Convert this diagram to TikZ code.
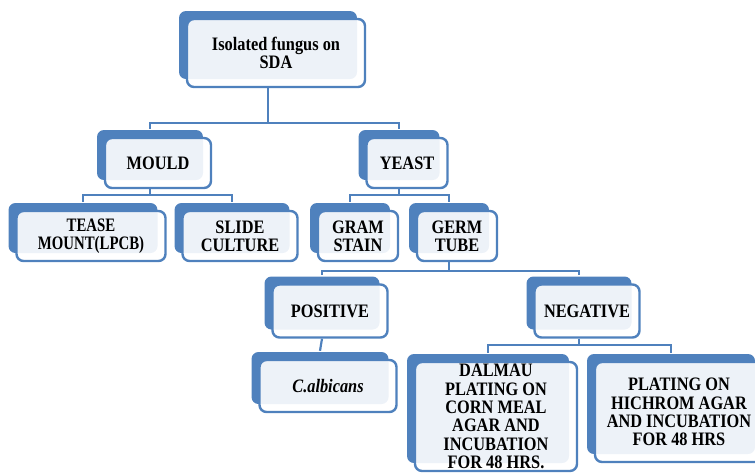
\documentclass[tikz,border=0pt]{standalone}
\usepackage{fontspec}
\setmainfont{Liberation Serif}[FakeStretch=0.86]
\newfontfamily\narrowfont{Liberation Serif}[FakeStretch=0.78]
\usetikzlibrary{backgrounds}
\definecolor{sablue}{HTML}{4F81BD}
\tikzset{
  x=1pt, y=-1pt,
  box/.style={draw=sablue, line width=2.4pt, rounded corners=7pt,
    fill=white, fill opacity=0.9, text opacity=1,
    align=center, inner sep=0pt,
    font=\fontsize{19}{18.3}\selectfont\bfseries,
    preaction={fill=sablue, draw=none, fill opacity=1,
      transform canvas={shift={(-8pt,8pt)}}}},
  conn/.style={draw=sablue, line width=2.2pt},
}
\begin{document}
\begin{tikzpicture}
\useasboundingbox (0,0) rectangle (755,472);
\clip (0,0) rectangle (755,472);
\node[box, minimum width=178pt, minimum height=68pt] (top) at (276,53) {Isolated fungus on\\SDA};
\node[box, minimum width=106pt, minimum height=50pt] (mould) at (158,163) {MOULD};
\node[box, minimum width=81pt, minimum height=50pt] (yeast) at (407,163) {YEAST};
\node[box, minimum width=149pt, minimum height=50pt, font=\fontsize{19}{18.3}\selectfont\narrowfont\bfseries] (tease) at (91,236) {TEASE\\MOUNT(LPCB)};
\node[box, minimum width=115pt, minimum height=50pt] (slide) at (240,236) {SLIDE\\CULTURE};
\node[box, minimum width=80pt, minimum height=50pt] (gram) at (358,236) {GRAM\\STAIN};
\node[box, minimum width=80pt, minimum height=50pt] (germ) at (457,236) {GERM\\TUBE};
\node[box, minimum width=115pt, minimum height=53pt] (pos) at (330,311) {POSITIVE};
\node[box, minimum width=105pt, minimum height=53pt] (neg) at (587,311) {NEGATIVE};
\node[box, minimum width=137pt, minimum height=52pt] (calb) at (328,386) {\itshape C.albicans};
\node[box, minimum width=162pt, minimum height=109pt] (dal) at (496,416.5) {DALMAU\\PLATING ON\\CORN MEAL\\AGAR AND\\INCUBATION\\FOR 48 HRS.};
\node[box, minimum width=168pt, minimum height=100pt] (hich) at (679,412) {PLATING ON\\HICHROM AGAR\\AND INCUBATION\\FOR 48 HRS};
\begin{scope}[on background layer]
\draw[conn] ([xshift=-8pt]top.south) -- ([xshift=-8pt]top.south |- 0,123) -| ([shift={(-8pt,8pt)}]mould.north);
\draw[conn] ([xshift=-8pt]top.south |- 0,123) -| ([shift={(-8pt,8pt)}]yeast.north);
\draw[conn] ([xshift=-8pt]mould.south) -- ([xshift=-8pt]mould.south |- 0,195) -| ([shift={(-8pt,8pt)}]tease.north);
\draw[conn] ([xshift=-8pt]mould.south |- 0,195) -| ([shift={(-8pt,8pt)}]slide.north);
\draw[conn] ([xshift=-8pt]yeast.south) -- ([xshift=-8pt]yeast.south |- 0,195) -| ([shift={(-8pt,8pt)}]gram.north);
\draw[conn] ([xshift=-8pt]yeast.south |- 0,195) -| ([shift={(-8pt,8pt)}]germ.north);
\draw[conn] ([xshift=-8pt]germ.south) -- ([xshift=-8pt]germ.south |- 0,271) -| ([shift={(-8pt,8pt)}]pos.north);
\draw[conn] ([xshift=-8pt]germ.south |- 0,271) -| ([shift={(-8pt,8pt)}]neg.north);
\draw[conn] ([xshift=-8pt]pos.south) -- ([shift={(-8pt,8pt)}]calb.north);
\draw[conn] ([xshift=-8pt]neg.south) -- ([xshift=-8pt]neg.south |- 0,345) -| ([shift={(-8pt,8pt)}]dal.north);
\draw[conn] ([xshift=-8pt]neg.south |- 0,345) -| ([shift={(-8pt,8pt)}]hich.north);
\end{scope}
\end{tikzpicture}
\end{document}
